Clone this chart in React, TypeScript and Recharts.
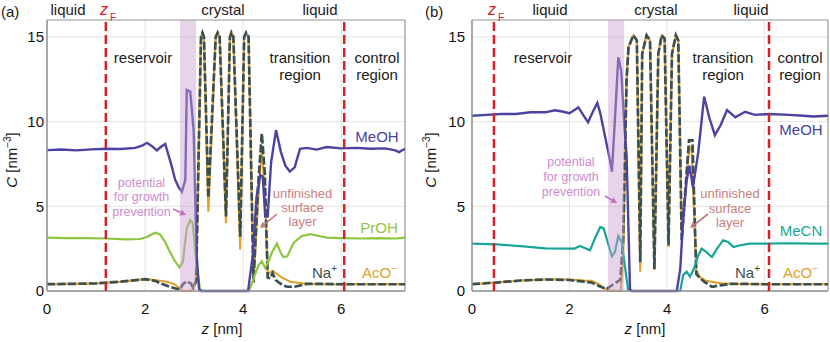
import React from "react";
import {
  CartesianGrid,
  Line,
  LineChart,
  ReferenceArea,
  ReferenceLine,
  XAxis,
  YAxis,
} from "recharts";

type Pt = [number, number];

const zTicks = [0, 2, 4, 6];
const cTicks = [0, 5, 10, 15];

// panel (a): methanol + propanol
const meohA: Pt[] = [
  [0, 8.32], [0.3, 8.35], [0.6, 8.3], [0.9, 8.36], [1.2, 8.4], [1.5, 8.38],
  [1.8, 8.45], [1.95, 8.6], [2.04, 8.75], [2.14, 8.55], [2.24, 8.3], [2.32, 8.5],
  [2.41, 8.68], [2.47, 8.1], [2.54, 7.4], [2.61, 6.6], [2.68, 6.15], [2.75, 5.86],
  [2.82, 6.55], [2.85, 11.87], [2.92, 11.77], [2.99, 9.5], [3.05, 2.2], [3.1, 0.1],
  [3.15, 0], [4.1, 0], [4.2, 2.2], [4.27, 5.5], [4.35, 6.85], [4.4, 6.75],
  [4.45, 4.4], [4.5, 4.4], [4.57, 7.6], [4.67, 9.5], [4.77, 8.2], [4.86, 7.4],
  [4.95, 7.05], [5.05, 7.3], [5.16, 8.4], [5.3, 8.45], [5.5, 8.35], [5.7, 8.5],
  [6.0, 8.42], [6.3, 8.45], [6.6, 8.4], [6.9, 8.42], [7.1, 8.3], [7.18, 8.2], [7.3, 8.4],
];
const prohA: Pt[] = [
  [0, 3.15], [0.4, 3.12], [0.8, 3.12], [1.2, 3.1], [1.6, 3.05], [1.9, 3.07],
  [2.05, 3.2], [2.2, 3.44], [2.3, 3.35], [2.4, 2.95], [2.5, 2.35], [2.6, 1.8],
  [2.7, 1.4], [2.77, 1.7], [2.85, 3.7], [2.92, 4.19], [2.97, 4.0], [3.05, 1.5],
  [3.12, 0.1], [3.17, 0], [4.1, 0], [4.14, 0.15], [4.24, 0.95], [4.31, 1.5],
  [4.38, 1.75], [4.45, 1.35], [4.52, 1.75], [4.59, 2.3], [4.69, 2.8], [4.76, 2.3],
  [4.82, 2.0], [4.9, 2.05], [5.03, 2.85], [5.2, 3.25], [5.37, 3.36], [5.55, 3.25],
  [5.7, 3.15], [6.0, 3.12], [6.4, 3.1], [6.8, 3.12], [7.1, 3.1], [7.3, 3.15],
];
const naA: Pt[] = [
  [0, 0.4], [0.5, 0.42], [1.0, 0.45], [1.5, 0.55], [2.0, 0.7], [2.2, 0.6],
  [2.35, 0.42], [2.5, 0.25], [2.62, 0.15], [2.71, 0.1], [2.77, 0.4], [2.85, 0.58],
  [2.93, 0.45], [2.98, 0.2], [3.04, 0.6], [3.14, 15.0], [3.17, 15.25], [3.2, 15.0],
  [3.29, 5.5], [3.44, 15.0], [3.48, 15.25], [3.52, 15.0], [3.65, 4.4], [3.73, 15.0],
  [3.76, 15.25], [3.8, 15.0], [3.94, 3.2], [4.02, 15.0], [4.06, 15.25], [4.11, 15.0],
  [4.21, 0.5], [4.3, 6.0], [4.38, 9.3], [4.44, 7.0], [4.5, 0.8], [4.55, 0.75],
  [4.6, 1.05], [4.66, 0.65], [4.8, 0.35], [4.9, 0.25], [5.05, 0.25], [5.3, 0.42],
  [5.6, 0.42], [6.0, 0.4], [6.5, 0.4], [7.0, 0.4], [7.3, 0.4],
];
const acoA: Pt[] = [
  [0, 0.4], [0.5, 0.42], [1.0, 0.45], [1.5, 0.55], [2.0, 0.7], [2.2, 0.65],
  [2.44, 0.55], [2.6, 0.4], [2.7, 0.15], [2.78, 0.0], [2.9, 0.0], [2.96, 0.05],
  [3.04, 0.5], [3.14, 15.0], [3.17, 15.25], [3.2, 15.0], [3.29, 4.68], [3.44, 15.0],
  [3.48, 15.25], [3.52, 15.0], [3.65, 4.0], [3.73, 15.0], [3.76, 15.25], [3.8, 15.0],
  [3.94, 2.45], [4.02, 15.0], [4.06, 15.25], [4.11, 15.0], [4.21, 0.5], [4.3, 5.0],
  [4.38, 8.5], [4.44, 6.0], [4.5, 1.0], [4.6, 1.2], [4.76, 0.85], [4.96, 0.55],
  [5.2, 0.45], [5.5, 0.4], [6.0, 0.4], [7.3, 0.4],
];

// panel (b): methanol + acetonitrile
const meohB: Pt[] = [
  [0, 10.35], [0.3, 10.4], [0.6, 10.45], [0.9, 10.45], [1.2, 10.55], [1.5, 10.55],
  [1.7, 10.67], [1.85, 10.6], [2.0, 10.5], [2.18, 10.84], [2.28, 10.4], [2.38, 9.96],
  [2.48, 10.6], [2.57, 11.1], [2.63, 10.5], [2.73, 9.1], [2.83, 7.7], [2.87, 7.05],
  [2.93, 10.1], [3.0, 13.8], [3.06, 13.0], [3.13, 9.5], [3.17, 8.0], [3.24, 0.1],
  [3.28, 0], [4.2, 0], [4.27, 1.3], [4.33, 4.2], [4.4, 6.5], [4.46, 7.4],
  [4.53, 6.1], [4.64, 8.2], [4.76, 11.47], [4.87, 10.2], [4.98, 9.2], [5.1, 9.8],
  [5.23, 10.68], [5.4, 10.25], [5.6, 10.58], [5.8, 10.4], [6.1, 10.45], [6.5, 10.4],
  [6.8, 10.35], [7.0, 10.3], [7.3, 10.35],
];
const mecnB: Pt[] = [
  [0, 2.8], [0.5, 2.75], [1.0, 2.65], [1.5, 2.52], [2.0, 2.5], [2.1, 2.5],
  [2.21, 2.66], [2.3, 2.55], [2.42, 2.4], [2.52, 3.1], [2.63, 3.78], [2.7, 3.7],
  [2.8, 2.7], [2.87, 2.05], [2.93, 2.3], [3.0, 3.25], [3.07, 2.9], [3.14, 1.35],
  [3.2, 0.1], [3.25, 0], [4.27, 0], [4.33, 0.94], [4.4, 1.14], [4.47, 0.85],
  [4.54, 1.24], [4.64, 2.1], [4.71, 2.5], [4.78, 2.36], [4.92, 2.0], [5.0, 2.4],
  [5.15, 3.0], [5.25, 2.9], [5.36, 2.6], [5.5, 2.7], [5.7, 2.8], [6.0, 2.8],
  [6.5, 2.82], [7.0, 2.8], [7.3, 2.8],
];
const naB: Pt[] = [
  [0, 0.4], [0.5, 0.5], [1.0, 0.62], [1.5, 0.68], [2.0, 0.65], [2.3, 0.55],
  [2.45, 0.5], [2.6, 0.3], [2.76, 0.12], [2.9, 0.4], [3.04, 0.65], [3.1, 3.0],
  [3.17, 12.5], [3.21, 14.4], [3.31, 15.1], [3.38, 14.8], [3.45, 1.7], [3.49, 14.0],
  [3.58, 15.1], [3.65, 14.8], [3.74, 1.3], [3.82, 14.0], [3.89, 15.1], [3.95, 14.9],
  [4.03, 2.7], [4.1, 14.0], [4.18, 15.1], [4.23, 14.8], [4.3, 3.0], [4.45, 8.9],
  [4.52, 8.9], [4.6, 1.0], [4.68, 0.75], [4.76, 0.55], [4.92, 0.25], [5.12, 0.35],
  [5.3, 0.42], [5.6, 0.42], [6.0, 0.4], [7.3, 0.4],
];
const acoB: Pt[] = [
  [0, 0.4], [0.5, 0.5], [1.0, 0.62], [1.5, 0.68], [2.0, 0.68], [2.3, 0.62],
  [2.45, 0.6], [2.6, 0.4], [2.72, 0.12], [2.8, 0.02], [3.05, 0.0], [3.1, 2.0],
  [3.17, 12.5], [3.21, 14.4], [3.31, 15.1], [3.38, 14.8], [3.45, 1.14], [3.49, 14.0],
  [3.58, 15.1], [3.65, 14.8], [3.74, 1.24], [3.82, 14.0], [3.89, 15.1], [3.95, 14.9],
  [4.03, 2.6], [4.1, 14.0], [4.18, 15.1], [4.23, 14.8], [4.3, 3.5], [4.45, 8.3],
  [4.5, 8.5], [4.6, 1.2], [4.68, 0.8], [4.8, 0.6], [4.92, 0.55], [5.1, 0.45],
  [5.3, 0.42], [6.0, 0.4], [7.3, 0.4],
];

const COL = {
  meoh: "#4a43a1",
  proh: "#8dc63f",
  mecn: "#17a597",
  na: "#3b4f4f",
  aco: "#e0a02c",
  red: "#d42129",
  pink: "#cf8bcf",
  brown: "#c98080",
};

const rows = (pts: Pt[]) => pts.map(([z, c]) => ({ z, c }));

type PanelProps = {
  left: number;
  yAxisW: number;
  tickGap: number;
  right: number;
  meoh: Pt[];
  cosolvent: Pt[];
  cosolventColor: string;
  na: Pt[];
  aco: Pt[];
  zF: number;
  zC: number;
  band: [number, number];
};

function Panel(p: PanelProps) {
  return (
    <div style={{ position: "absolute", left: p.left, top: 0 }}>
      <LineChart
        width={415}
        height={342}
        margin={{ top: 20, right: p.right, bottom: 0, left: 0 }}
      >
        <CartesianGrid stroke="#e4e4e4" strokeWidth={1} />
        <XAxis
          type="number"
          dataKey="z"
          domain={[0, 7.3]}
          ticks={zTicks}
          height={51}
          tickSize={0}
          tickMargin={12}
          axisLine={{ stroke: "#8f8f8f", strokeWidth: 1.5 }}
          tick={{ fill: "#111", fontSize: 15 }}
          allowDataOverflow
        />
        <YAxis
          type="number"
          domain={[0, 16]}
          ticks={cTicks}
          width={p.yAxisW}
          tickSize={0}
          tickMargin={p.tickGap}
          axisLine={{ stroke: "#8f8f8f", strokeWidth: 1.5 }}
          tick={{ fill: "#111", fontSize: 15 }}
        />
        <ReferenceLine y={16} stroke="#a0a0a0" strokeWidth={1.2} />
        <ReferenceLine x={7.3} stroke="#a0a0a0" strokeWidth={1.2} />
        <Line data={rows(p.aco)} dataKey="c" type="linear" stroke={COL.aco}
          strokeWidth={2.1} dot={false} isAnimationActive={false} />
        <Line data={rows(p.na)} dataKey="c" type="linear" stroke={COL.na}
          strokeWidth={2.7} strokeDasharray="8 2.5" dot={false} isAnimationActive={false} />
        <Line data={rows(p.cosolvent)} dataKey="c" type="linear" stroke={p.cosolventColor}
          strokeWidth={2.2} dot={false} isAnimationActive={false} />
        <Line data={rows(p.meoh)} dataKey="c" type="linear" stroke={COL.meoh}
          strokeWidth={2.4} dot={false} isAnimationActive={false} />
      </LineChart>
      {/* second, transparent chart on top: shaded band and region boundaries */}
      <div style={{ position: "absolute", left: 0, top: 0 }}>
        <LineChart
          width={415}
          height={342}
          margin={{ top: 20, right: p.right, bottom: 51, left: p.yAxisW }}
        >
          <XAxis type="number" dataKey="z" domain={[0, 7.3]} hide allowDataOverflow />
          <YAxis type="number" domain={[0, 16]} hide />
          <Line data={rows(p.meoh)} dataKey="c" stroke="none" dot={false}
            isAnimationActive={false} />
          <ReferenceArea x1={p.band[0]} x2={p.band[1]} y1={0} y2={16} fill="#c9a0d0"
            fillOpacity={0.45} stroke="none" />
          <ReferenceLine x={p.zF} stroke={COL.red} strokeWidth={2.5} strokeDasharray="9 4" />
          <ReferenceLine x={p.zC} stroke={COL.red} strokeWidth={2.5} strokeDasharray="9 4" />
        </LineChart>
      </div>
    </div>
  );
}

function Arrow({ x1, y1, x2, y2, color }: { x1: number; y1: number; x2: number; y2: number; color: string }) {
  const a = Math.atan2(y2 - y1, x2 - x1);
  const L = 6, W = 3.2;
  const bx = x2 - L * Math.cos(a), by = y2 - L * Math.sin(a);
  const px = -Math.sin(a) * W, py = Math.cos(a) * W;
  return (
    <g>
      <line x1={x1} y1={y1} x2={bx} y2={by} stroke={color} strokeWidth={1.6} />
      <polygon points={`${x2},${y2} ${bx + px},${by + py} ${bx - px},${by - py}`} fill={color} />
    </g>
  );
}

function Overlay() {
  const t = { fontSize: 15, fill: "#1a1a1a" };
  return (
    <svg width={830} height={342} style={{ position: "absolute", left: 0, top: 0, pointerEvents: "none" }}>
      {/* panel letters and headers */}
      <text x={1} y={17} {...t}>(a)</text>
      <text x={425} y={17} {...t}>(b)</text>
      <text x={68} y={15} textAnchor="middle" {...t}>liquid</text>
      <text x={223} y={15} textAnchor="middle" {...t}>crystal</text>
      <text x={320} y={15} textAnchor="middle" {...t}>liquid</text>
      <text x={550} y={15} textAnchor="middle" {...t}>liquid</text>
      <text x={656} y={15} textAnchor="middle" {...t}>crystal</text>
      <text x={751} y={15} textAnchor="middle" {...t}>liquid</text>
      <text x={100} y={15} fontSize={16} fill={COL.red} fontStyle="italic">z</text>
      <text x={110} y={21} fontSize={10} fill={COL.red}>F</text>
      <text x={488} y={15} fontSize={16} fill={COL.red} fontStyle="italic">z</text>
      <text x={498} y={21} fontSize={10} fill={COL.red}>F</text>

      {/* regions */}
      <text x={143} y={63} textAnchor="middle" {...t}>reservoir</text>
      <text x={300} y={63} textAnchor="middle" {...t}>transition</text>
      <text x={300} y={80} textAnchor="middle" {...t}>region</text>
      <text x={377} y={63} textAnchor="middle" {...t}>control</text>
      <text x={377} y={80} textAnchor="middle" {...t}>region</text>
      <text x={543} y={63} textAnchor="middle" {...t}>reservoir</text>
      <text x={723} y={63} textAnchor="middle" {...t}>transition</text>
      <text x={723} y={80} textAnchor="middle" {...t}>region</text>
      <text x={800} y={63} textAnchor="middle" {...t}>control</text>
      <text x={800} y={80} textAnchor="middle" {...t}>region</text>

      {/* series names */}
      <text x={377} y={142} textAnchor="middle" fontSize={15} fill={COL.meoh}>MeOH</text>
      <text x={379} y={233} textAnchor="middle" fontSize={15} fill={COL.proh}>PrOH</text>
      <text x={312} y={278} fontSize={15} fill={COL.na}>Na<tspan fontSize={10} dy={-6}>+</tspan></text>
      <text x={362} y={278} fontSize={15} fill={COL.aco}>AcO<tspan fontSize={10} dy={-6}>−</tspan></text>
      <text x={801} y={135} textAnchor="middle" fontSize={15} fill={COL.meoh}>MeOH</text>
      <text x={801} y={236} textAnchor="middle" fontSize={15} fill={COL.mecn}>MeCN</text>
      <text x={735} y={278} fontSize={15} fill={COL.na}>Na<tspan fontSize={10} dy={-6}>+</tspan></text>
      <text x={783} y={278} fontSize={15} fill={COL.aco}>AcO<tspan fontSize={10} dy={-6}>−</tspan></text>

      {/* annotations */}
      <g fontSize={12.5} fill={COL.pink} textAnchor="middle">
        <text x={141.5} y={187}>potential</text>
        <text x={141.5} y={201}>for growth</text>
        <text x={141.5} y={216}>prevention</text>
        <text x={571} y={166}>potential</text>
        <text x={571} y={181}>for growth</text>
        <text x={571} y={196}>prevention</text>
      </g>
      <g fontSize={13} fill={COL.brown} textAnchor="middle">
        <text x={302.5} y={198}>unfinished</text>
        <text x={302.5} y={212}>surface</text>
        <text x={302.5} y={226}>layer</text>
        <text x={730} y={198}>unfinished</text>
        <text x={730} y={213}>surface</text>
        <text x={730} y={227}>layer</text>
      </g>
      <Arrow x1={173} y1={209} x2={186} y2={215} color="#c86fc0" />
      <Arrow x1={605} y1={196} x2={617} y2={203} color="#c86fc0" />
      <Arrow x1={277} y1={214} x2={260} y2={228} color="#c27777" />
      <Arrow x1={708} y1={214} x2={690} y2={228} color="#c27777" />

      {/* axis titles */}
      <text x={222} y={334} textAnchor="middle" {...t}>
        <tspan fontStyle="italic">z</tspan>  [nm]
      </text>
      <text x={645} y={334} textAnchor="middle" {...t}>
        <tspan fontStyle="italic">z</tspan>  [nm]
      </text>
      <text transform="translate(17,160) rotate(-90)" textAnchor="middle" {...t}>
        <tspan fontStyle="italic">C</tspan> [nm<tspan fontSize={10} dy={-6}>−3</tspan><tspan dy={6}>]</tspan>
      </text>
      <text transform="translate(436,160) rotate(-90)" textAnchor="middle" {...t}>
        <tspan fontStyle="italic">C</tspan> [nm<tspan fontSize={10} dy={-6}>−3</tspan><tspan dy={6}>]</tspan>
      </text>
    </svg>
  );
}

export default function App() {
  return (
    <div
      style={{
        position: "absolute",
        left: 0,
        top: 0,
        width: 830,
        height: 342,
        background: "#fff",
        fontFamily: "'Liberation Sans', Arial, sans-serif",
      }}
    >
      <Panel left={0} yAxisW={47} tickGap={3} right={10} meoh={meohA} cosolvent={prohA}
        cosolventColor={COL.proh} na={naA} aco={acoA} zF={1.2} zC={6.06} band={[2.71, 3.04]} />
      <Panel left={415} yAxisW={57} tickGap={7} right={2} meoh={meohB} cosolvent={mecnB}
        cosolventColor={COL.mecn} na={naB} aco={acoB} zF={0.45} zC={6.09} band={[2.79, 3.12]} />
      <Overlay />
    </div>
  );
}
